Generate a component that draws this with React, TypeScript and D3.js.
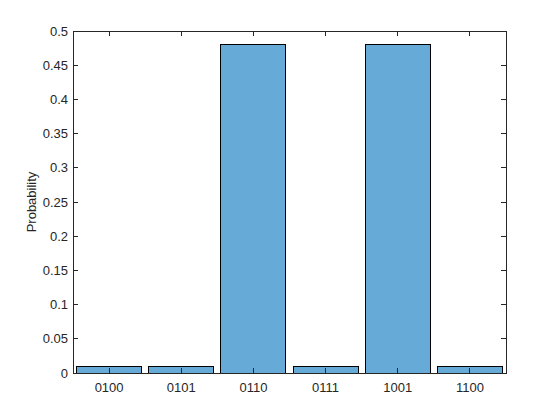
import * as d3 from 'd3';

const categories = ['0100', '0101', '0110', '0111', '1001', '1100'];
const probabilities = [0.0098, 0.0098, 0.4805, 0.0098, 0.4805, 0.0098];
const yTicks = [0, 0.05, 0.1, 0.15, 0.2, 0.25, 0.3, 0.35, 0.4, 0.45, 0.5];

const W = 560;
const H = 420;
const margin = { top: 31, right: 54, bottom: 47, left: 73 };
const axisColor = '#262626';
const font = '"Liberation Sans", Arial, Helvetica, sans-serif';

export default function App() {
  const innerW = W - margin.left - margin.right;
  const innerH = H - margin.top - margin.bottom;

  const x = d3
    .scaleBand<string>()
    .domain(categories)
    .range([0, innerW])
    .paddingInner(0.1)
    .paddingOuter(0.05);
  const y = d3.scaleLinear().domain([0, 0.5]).range([innerH, 0]);
  const tickLen = 5;

  return (
    <div style={{ position: 'absolute', left: 0, top: 0, width: W, height: H, background: '#fff' }}>
      <svg width={W} height={H} style={{ display: 'block' }}>
        <rect width={W} height={H} fill="#fff" />
        <g transform={`translate(${margin.left},${margin.top})`}>
          {categories.map((c, i) => (
            <rect
              key={c}
              x={x(c)}
              y={y(probabilities[i])}
              width={x.bandwidth()}
              height={innerH - y(probabilities[i])}
              fill="rgb(102,170,215)"
              stroke="#000"
              strokeWidth={1}
              shapeRendering="crispEdges"
            />
          ))}

          {/* axis box */}
          <rect
            x={0}
            y={0}
            width={innerW}
            height={innerH}
            fill="none"
            stroke={axisColor}
            strokeWidth={1}
            shapeRendering="crispEdges"
          />

          {/* y ticks */}
          {yTicks.map((t) => (
            <g key={t} transform={`translate(0,${y(t)})`}>
              <line x1={0} x2={tickLen} stroke={axisColor} shapeRendering="crispEdges" />
              <line x1={innerW} x2={innerW - tickLen} stroke={axisColor} shapeRendering="crispEdges" />
              <text
                x={-5}
                dy="0.35em"
                textAnchor="end"
                fontFamily={font}
                fontSize={13}
                fill={axisColor}
              >
                {d3.format('')(t)}
              </text>
            </g>
          ))}

          {/* x ticks */}
          {categories.map((c) => {
            const cx = (x(c) ?? 0) + x.bandwidth() / 2;
            return (
              <g key={c} transform={`translate(${cx},0)`}>
                <line y1={innerH} y2={innerH - tickLen} stroke={axisColor} shapeRendering="crispEdges" />
                <line y1={0} y2={tickLen} stroke={axisColor} shapeRendering="crispEdges" />
                <text
                  y={innerH + 19}
                  textAnchor="middle"
                  fontFamily={font}
                  fontSize={13}
                  fill={axisColor}
                >
                  {c}
                </text>
              </g>
            );
          })}

          <text
            transform={`translate(${-37},${innerH / 2}) rotate(-90)`}
            textAnchor="middle"
            fontFamily={font}
            fontSize={13}
            fill={axisColor}
          >
            Probability
          </text>
        </g>
      </svg>
    </div>
  );
}
